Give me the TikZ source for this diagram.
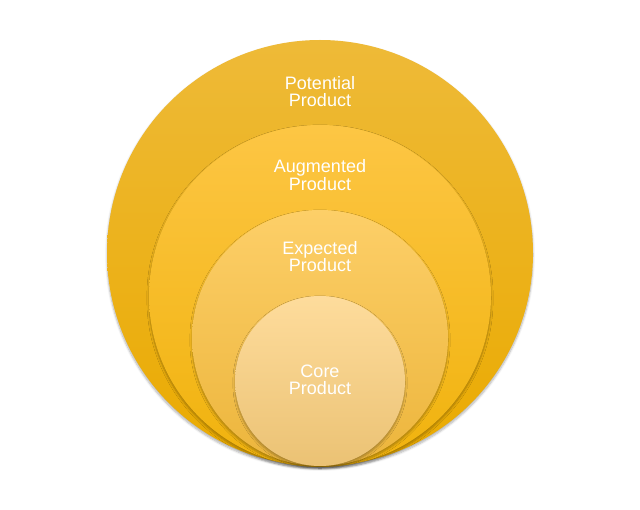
\documentclass[tikz,border=0pt]{standalone}
\usepackage{fontspec}
\setmainfont{Liberation Sans}
\usetikzlibrary{shadows.blur}
\definecolor{oTop}{RGB}{238,186,56}
\definecolor{oMid}{RGB}{245,182,0}
\definecolor{oBot}{RGB}{234,170,0}
\definecolor{aTop}{RGB}{253,198,68}
\definecolor{aMid}{RGB}{253,192,14}
\definecolor{aBot}{RGB}{240,178,12}
\definecolor{eTop}{RGB}{253,207,104}
\definecolor{eMid}{RGB}{253,198,82}
\definecolor{eBot}{RGB}{236,181,60}
\definecolor{cTop}{RGB}{254,220,156}
\definecolor{cMid}{RGB}{253,213,142}
\definecolor{cBot}{RGB}{235,194,116}
\tikzset{
  ring/.style={circle, inner sep=0pt, draw=none,
    blur shadow={shadow xshift=0pt, shadow yshift=-2pt, shadow blur steps=6, shadow blur extra rounding=1.5pt, shadow opacity=30}},
  lbl/.style={text=white, font=\fontsize{18pt}{17pt}\selectfont, anchor=base, inner sep=0pt}
}
\begin{document}
\begin{tikzpicture}[x=1pt,y=-1pt]
\useasboundingbox (0,0) rectangle (640,510);
\node[ring, minimum size=426pt, top color=oTop, middle color=oMid, bottom color=oBot] (outer) at (320,253) {};
\node[ring, minimum size=342pt, top color=aTop, middle color=aMid, bottom color=aBot] (aug) at (320,296) {};
\node[ring, minimum size=256pt, top color=eTop, middle color=eMid, bottom color=eBot] (exp) at (320,338) {};
\node[ring, minimum size=170pt, top color=cTop, middle color=cMid, bottom color=cBot] (core) at (320,381) {};
\node[lbl] (pot1) at (320,90) {Potential};
\node[lbl] (pot2) at (320,107) {Product};
\node[lbl] (aug1) at (320,173) {Augmented};
\node[lbl] (aug2) at (320,190.5) {Product};
\node[lbl] (exp1) at (320,255) {Expected};
\node[lbl] (exp2) at (320,272) {Product};
\node[lbl] (core1) at (320,378) {Core};
\node[lbl] (core2) at (320,395) {Product};
\end{tikzpicture}
\end{document}
